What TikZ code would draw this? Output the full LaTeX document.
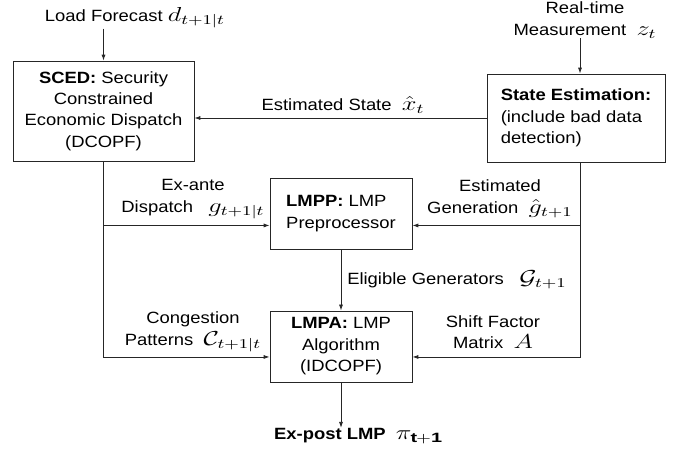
\documentclass[tikz,border=0pt,12pt]{standalone}
\usepackage{amsmath}
\usepackage{fontspec}
\setmainfont[FakeStretch=1.13]{Liberation Sans}
\usetikzlibrary{arrows.meta}

% math in the figure is set larger and wider than the text
\newcommand{\mth}[1]{\scalebox{1.62}[1.24]{$#1$}}

\tikzset{
  blk/.style={draw=black!85,line width=0.6pt},
  lbl/.style={align=center,inner sep=0pt},
  flow/.style={draw=black!85,line width=0.6pt,-{Latex[length=4.4pt,width=3pt]}}
}

\begin{document}
\begin{tikzpicture}[x=0.736pt,y=-0.736pt,font=\fontsize{12}{15.8}\selectfont]
\useasboundingbox (0,0) rectangle (681,453);

%blocks
\node[blk,minimum width=133.2pt,minimum height=73.6pt,align=center](sced) at (103.5,111){\textbf{SCED:} Security\\Constrained\\Economic Dispatch\\(DCOPF)};
\node[blk,minimum width=131pt,minimum height=64.8pt,align=left](se) at (576,118){\textbf{State Estimation:}\\(include bad data\\detection)};
\node[blk,minimum width=104.5pt,minimum height=52.3pt,align=left](lmpp) at (341,213.5){\textbf{LMPP:} LMP\\Preprocessor};
\node[blk,minimum width=104.5pt,minimum height=52.3pt,align=center](lmpa) at (341,346.5){\textbf{LMPA:} LMP\\Algorithm\\(IDCOPF)};

%inputs and output
\node[lbl](lf) at (135,18){Load Forecast \mth{d_{t+1|t}}};
\node[lbl](rt) at (585,20){Real-time\\Measurement~~\mth{z_t}};
\node[lbl](out) at (358,436){\textbf{Ex-post LMP}~~\mth{\pi_{\mathbf{t+1}}}};

%signal labels
\node[lbl](xs) at (343,105){Estimated State~~\mth{\hat{x}_t}};
\node[lbl](ea) at (193,199){Ex-ante\\Dispatch~~~\mth{g_{t+1|t}}};
\node[lbl](eg) at (500,199){Estimated\\Generation~~\mth{\hat{g}_{t+1}}};
\node[lbl,anchor=west](gen) at (347,280){Eligible Generators~~~\mth{\mathcal{G}_{t+1}}};
\node[lbl](cp) at (193,332){Congestion\\Patterns~~\mth{\mathcal{C}_{t+1|t}}};
\node[lbl](sf) at (493,332){Shift Factor\\Matrix~~\mth{A}};

%right bus
\coordinate (rbus) at (580,0);

%connectors
\draw[flow](lf.south -| sced.north)--(sced.north);
\draw[flow](rt.south -| rbus)--(se.north -| rbus);
\draw[flow](se.west)--(se.west -| sced.east);
\draw[flow](sced.south)|-([yshift=-8.8pt]lmpp.west);
\draw[flow](sced.south)|-([yshift=-7.7pt]lmpa.west);
\draw[flow](se.south -| rbus)|-([yshift=-8.8pt]lmpp.east);
\draw[flow](se.south -| rbus)|-([yshift=-7.7pt]lmpa.east);
\draw[flow](lmpp)--(lmpa);
\draw[flow](lmpa)--(lmpa.south |- out.north);
\end{tikzpicture}
\end{document}
